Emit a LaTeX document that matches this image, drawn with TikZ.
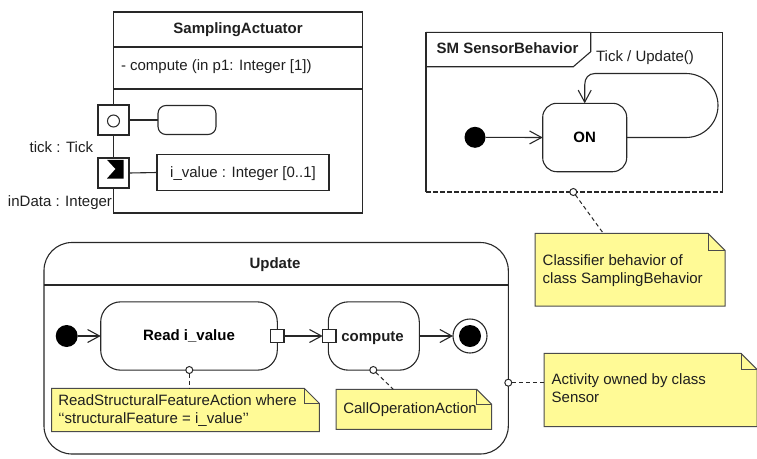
\documentclass[tikz,border=0pt]{standalone}
\usepackage{fontspec}
\setmainfont{Liberation Sans}
\usetikzlibrary{arrows.meta,calc}
\definecolor{noteyellow}{RGB}{255,250,150}
\definecolor{ln}{RGB}{40,40,40}
\definecolor{noteln}{RGB}{75,75,75}
\tikzset{
  base/.style={line width=1.1pt, draw=ln},
  tx/.style={font=\fontsize{15}{18}\selectfont, inner sep=0pt, outer sep=0pt, text=black!88},
  bx/.style={font=\fontsize{15}{18}\selectfont\bfseries, inner sep=0pt, outer sep=0pt, text=black!88},
  boxnode/.style={base, rectangle, inner sep=0pt, outer sep=0pt},
  plainbox/.style={rectangle, inner sep=0pt, outer sep=0pt},
  trans/.style={base, -{Straight Barb[length=12pt,width=13pt,line width=1.1pt]}},
  anchorline/.style={line width=1pt, draw=ln, dash pattern=on 4pt off 3pt},
  smallcirc/.style={circle, draw=ln, fill=white, line width=1pt, minimum size=7pt, inner sep=0pt, outer sep=0pt},
  notebg/.style={rectangle, inner sep=0pt, outer sep=0pt},
  notestyle/.style={line width=1pt, draw=noteln, fill=noteyellow, line join=miter},
  pinbox/.style={base, rectangle, fill=white, inner sep=0pt, outer sep=0pt},
}
\newcommand\umlnote[6]{%
  \node[notebg, minimum width={#4-#2}, minimum height={#5-#3}] (#1) at ({(#2+#4)/2},{(#3+#5)/2}) {};
  \draw[notestyle] (#1.north west) -- ($(#1.north east)+(-#6,0)$) -- ($(#1.north east)+(0,#6)$) -- (#1.south east) -- (#1.south west) -- cycle;
  \draw[notestyle, fill=none] ($(#1.north east)+(-#6,0)$) -- ($(#1.north east)+(-#6,#6)$) -- ($(#1.north east)+(0,#6)$);
}
\begin{document}
\begin{tikzpicture}[x=1pt,y=-1pt]
\useasboundingbox (0,0) rectangle (757,458);

% ---------------- SamplingActuator ----------------
\node[boxnode, minimum width=249pt, minimum height=201pt] (SA) at (238,112.5) {};
\draw[base] (SA.west |- 0,47) -- (SA.east |- 0,47);
\draw[base] (SA.west |- 0,89) -- (SA.east |- 0,89);
\node[bx, anchor=base] (SAt) at (238,33.4) {SamplingActuator};
\node[tx, anchor=base west] (SAop) at (121,70.4) {- compute (in p1: Integer [1])};

\node[pinbox, minimum width=31pt, minimum height=30pt] (port1) at (113.5,120) {};
\node[circle, draw=ln, line width=1pt, minimum size=12pt, inner sep=0pt] (port1c) at (113.5,121) {};
\node[pinbox, minimum width=31pt, minimum height=30pt] (port2) at (113.5,173) {};
\fill[black] (107,159.8) -- (123.5,159.8) -- (123.5,178.5) -- (107,178.5) -- (115.5,169) -- cycle;

\node[boxnode, rounded corners=8pt, minimum width=58pt, minimum height=29pt] (rr) at (187,120) {};
\node[boxnode, minimum width=172pt, minimum height=36.5pt] (iv) at (243,172.5) {};
\node[tx, anchor=base] (ivt) at (243,177.5) {i\_value : Integer [0..1]};
\draw[base] (port1.east) -- (rr.west);
\draw[base] (port2.east) -- (iv.west);

\node[tx, anchor=base east] (lt) at (93,152) {tick : Tick};
\node[tx, anchor=base west] (ld) at (8,206.4) {inData : Integer};

% ---------------- SM SensorBehavior ----------------
\node[plainbox, minimum width=296.7pt, minimum height=159.7pt] (SM) at (574.35,112.15) {};
\draw[base] (SM.south west) -- (SM.north west) -- (SM.north east) -- (SM.south east);
\draw[line width=2pt, draw=ln, dash pattern=on 5pt off 2pt] (SM.south west) -- (SM.south east);
\draw[base, line join=miter] (SM.north west) -- (590.7,32.3) -- (590.7,51.7) -- (573.3,66.7) -- (SM.north west |- 0,66.7);
\node[bx, anchor=base] (SMt) at (507.5,53.7) {SM SensorBehavior};

\node[circle, fill=black, minimum size=21pt, inner sep=0pt, outer sep=0pt] (ini1) at (475,137.3) {};
\node[boxnode, rounded corners=14pt, minimum width=84pt, minimum height=68.4pt, font=\fontsize{15}{18}\selectfont\bfseries] (ON) at (584.7,137.5) {ON};
\draw[trans] (ini1) -- (ON.west);
\draw[trans] (ON.east) -- (686,137.5) .. controls (703.7,137.5) and (718,123.2) .. (718,105.5)
   .. controls (718,87.8) and (703.7,73.5) .. (686,73.5) -- (595,73.5)
   .. controls (588.5,73.5) and (584.7,78) .. (584.7,85) -- (ON.north);
\node[tx, anchor=base] (tl) at (645,61) {Tick / Update()};

% ---------------- Update activity ----------------
\node[boxnode, rounded corners=28pt, minimum width=464.3pt, minimum height=211.5pt] (UP) at (276.15,348.25) {};
\draw[base] (UP.west |- 0,285) -- (UP.east |- 0,285);
\node[bx, anchor=base] (UPt) at (275,268.7) {Update};

\node[circle, fill=black, minimum size=22pt, inner sep=0pt, outer sep=0pt] (ini2) at (66.7,336) {};
\node[boxnode, rounded corners=20pt, minimum width=176.6pt, minimum height=68.3pt, font=\fontsize{15}{18}\selectfont\bfseries] (RD) at (189,336) {Read i\_value};
\node[boxnode, rounded corners=20pt, minimum width=91pt, minimum height=68.3pt] (CP) at (373.8,336) {};
\node[bx, anchor=base] (CPt) at (372.5,341.4) {compute};
\node[pinbox, minimum size=13.3pt] (outpin) at (277.3,336) {};
\node[pinbox, minimum size=13.3pt] (inpin) at (329.3,336) {};
\node[circle, draw=ln, line width=1.1pt, fill=white, minimum size=34pt, inner sep=0pt, outer sep=0pt] (fin) at (470,336) {};
\node[circle, fill=black, minimum size=22pt, inner sep=0pt] (finc) at (470,336) {};

\draw[trans] (ini2) -- (RD.west);
\draw[trans] (outpin.east) -- (inpin.west);
\draw[trans] (CP.east) -- (fin.west);

% ---------------- Notes ----------------
\umlnote{n1}{535}{233.3}{725}{306}{17}
\node[tx, anchor=base west] (n1a) at (542.7,265.4) {Classifier behavior of};
\node[tx, anchor=base west] (n1b) at (542.7,283.7) {class SamplingBehavior};

\umlnote{n2}{51.7}{388.3}{319.3}{431.7}{15}
\node[tx, anchor=base west] (n2a) at (58.3,405.4) {ReadStructuralFeatureAction where};
\node[tx, anchor=base west] (n2b) at (58.3,423.7) {{`}{`}structuralFeature = i\_value{'}{'}};

\umlnote{n3}{336}{389.3}{491.7}{429.3}{15}
\node[tx, anchor=base west] (n3a) at (343.3,413.7) {CallOperationAction};

\umlnote{n4}{544}{353.3}{757}{426.7}{16}
\node[tx, anchor=base west] (n4a) at (551.7,384.7) {Activity owned by class};
\node[tx, anchor=base west] (n4b) at (551.7,402.7) {Sensor};

% anchor circles and dashed links
\node[smallcirc] (c1) at (573.3,192) {};
\node[smallcirc] (c2) at (189.3,370) {};
\node[smallcirc] (c3) at (373.3,370) {};
\node[smallcirc] (c4) at (508.3,382.7) {};
\draw[anchorline] (c1) -- ($(n1.north west)+(68.3,0)$);
\draw[anchorline] (c2) -- ($(n2.north west)+(137.6,0)$);
\draw[anchorline] (c3) -- ($(n3.north west)+(57.3,0)$);
\draw[anchorline] (c4) -- (n4.west |- c4);
\end{tikzpicture}
\end{document}
